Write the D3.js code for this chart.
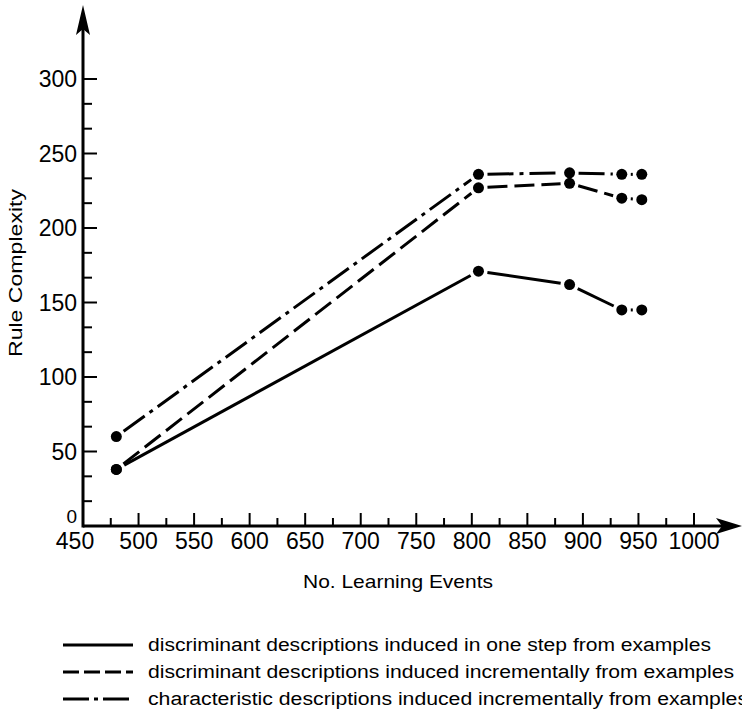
<!DOCTYPE html>
<html>
<head>
<meta charset="utf-8">
<script src="https://cdn.jsdelivr.net/npm/d3@7"></script>
<style>
  body { margin: 0; background: #fff; }
  svg { display: block; }
  text { font-family: "Liberation Sans", Arial, sans-serif; fill: #000; }
</style>
</head>
<body>
<svg id="chart" width="742" height="712"></svg>
<script>
// values
const events = [480, 806, 888, 935, 953];
const oneStep = [38, 171, 162, 145, 145];
const incDiscr = [38, 227, 230, 220, 219];
const incChar = [60, 236, 237, 236, 236];

const xTickValues = [450, 500, 550, 600, 650, 700, 750, 800, 850, 900, 950, 1000];
const yTickValues = [0, 50, 100, 150, 200, 250, 300];

const seriesNames = [
  "discriminant descriptions induced in one step from examples",
  "discriminant descriptions induced incrementally from examples",
  "characteristic descriptions induced incrementally from examples"
];
const dashes = [null, "20,7", "26,6,4,6"];
const legendDashes = [null, "16,5", "26,5,4,5"];
const legendWidths = [563, 586, 600];

const series = [oneStep, incDiscr, incChar];

const svg = d3.select("#chart");

const x = d3.scaleLinear().domain([450, 1000]).range([83, 694]);
const y = d3.scaleLinear().domain([0, 300]).range([526, 79]);

const axisG = svg.append("g").attr("class", "axes");

// axis lines with arrow heads
axisG.append("line")
  .attr("x1", x(450)).attr("x2", 728)
  .attr("y1", y(0)).attr("y2", y(0))
  .attr("stroke", "black").attr("stroke-width", 3);
axisG.append("path")
  .attr("d", `M742,${y(0)} L716,${y(0) - 8} L722,${y(0)} L716,${y(0) + 8} Z`)
  .attr("fill", "black");

axisG.append("line")
  .attr("x1", x(450)).attr("x2", x(450))
  .attr("y1", y(0) + 1.5).attr("y2", 20)
  .attr("stroke", "black").attr("stroke-width", 3);
axisG.append("path")
  .attr("d", `M${x(450)},5 L${x(450) - 7},35 L${x(450)},29 L${x(450) + 7},35 Z`)
  .attr("fill", "black");

// x ticks (pointing up, inside)
const xMinor = d3.range(475, 1000, 50);
axisG.selectAll("line.xmaj")
  .data(xTickValues.filter(d => d > 450))
  .join("line")
  .attr("class", "xmaj")
  .attr("x1", d => x(d)).attr("x2", d => x(d))
  .attr("y1", y(0)).attr("y2", y(0) - 13)
  .attr("stroke", "black").attr("stroke-width", 2);
axisG.selectAll("line.xmin")
  .data(xMinor)
  .join("line")
  .attr("class", "xmin")
  .attr("x1", d => x(d)).attr("x2", d => x(d))
  .attr("y1", y(0)).attr("y2", y(0) - 8)
  .attr("stroke", "black").attr("stroke-width", 2);

// the 450 label sits a little left of the corner
axisG.selectAll("text.xlab")
  .data(xTickValues)
  .join("text")
  .attr("class", "xlab")
  .attr("x", d => d === 450 ? x(d) - 8 : x(d))
  .attr("y", 549)
  .attr("text-anchor", "middle")
  .style("font-size", "23px")
  .text(d => d);

// y ticks (pointing right, inside)
const yMinor = d3.range(1, 18).map(i => i * 50 / 3).filter(d => Math.round(d) % 50 !== 0);
axisG.selectAll("line.ymaj")
  .data(yTickValues.filter(d => d > 0))
  .join("line")
  .attr("class", "ymaj")
  .attr("x1", x(450)).attr("x2", x(450) + 14)
  .attr("y1", d => y(d)).attr("y2", d => y(d))
  .attr("stroke", "black").attr("stroke-width", 2);
axisG.selectAll("line.ymin")
  .data(yMinor)
  .join("line")
  .attr("class", "ymin")
  .attr("x1", x(450)).attr("x2", x(450) + 9)
  .attr("y1", d => y(d)).attr("y2", d => y(d))
  .attr("stroke", "black").attr("stroke-width", 2);

// the 0 label is lifted so it clears the 450 below it
axisG.selectAll("text.ylab")
  .data(yTickValues)
  .join("text")
  .attr("class", "ylab")
  .attr("x", 77)
  .attr("y", d => d === 0 ? y(d) - 3 : y(d) + 8)
  .attr("text-anchor", "end")
  .style("font-size", d => d === 0 ? "19px" : "23px")
  .text(d => d);

// axis titles
svg.append("text")
  .attr("x", 398).attr("y", 588)
  .attr("text-anchor", "middle")
  .attr("textLength", 190)
  .attr("lengthAdjust", "spacingAndGlyphs")
  .style("font-size", "19px")
  .text("No. Learning Events");

svg.append("text")
  .attr("transform", "translate(22, 273) rotate(-90)")
  .attr("text-anchor", "middle")
  .attr("textLength", 168)
  .attr("lengthAdjust", "spacingAndGlyphs")
  .style("font-size", "19px")
  .text("Rule Complexity");

// data lines, drawn per segment with a gap round each dot
const gap = 9;
const plotG = svg.append("g").attr("class", "plot");
series.forEach((vals, si) => {
  const pts = vals.map((v, i) => [x(events[i]), y(v)]);
  const segs = d3.pairs(pts).map(([a, b]) => {
    const dx = b[0] - a[0], dy = b[1] - a[1];
    const len = Math.hypot(dx, dy);
    const ux = dx / len, uy = dy / len;
    return [a[0] + ux * gap, a[1] + uy * gap, b[0] - ux * gap, b[1] - uy * gap];
  });
  plotG.selectAll(null)
    .data(segs)
    .join("line")
    .attr("x1", d => d[0]).attr("y1", d => d[1])
    .attr("x2", d => d[2]).attr("y2", d => d[3])
    .attr("stroke", "black")
    .attr("stroke-width", 3)
    .attr("stroke-dasharray", dashes[si]);
  plotG.selectAll(null)
    .data(pts)
    .join("circle")
    .attr("cx", d => d[0]).attr("cy", d => d[1])
    .attr("r", 5.5)
    .attr("fill", "black");
});

// legend
const legendY = [645, 672, 699];
const legG = svg.append("g").attr("class", "legend");
legG.selectAll("line")
  .data(seriesNames)
  .join("line")
  .attr("x1", 63).attr("x2", 133)
  .attr("y1", (d, i) => legendY[i]).attr("y2", (d, i) => legendY[i])
  .attr("stroke", "black").attr("stroke-width", 3)
  .attr("stroke-dasharray", (d, i) => legendDashes[i]);
legG.selectAll("text")
  .data(seriesNames)
  .join("text")
  .attr("x", 148)
  .attr("y", (d, i) => legendY[i] + 6)
  .attr("textLength", (d, i) => legendWidths[i])
  .attr("lengthAdjust", "spacingAndGlyphs")
  .style("font-size", "18px")
  .text(d => d);
</script>
</body>
</html>
